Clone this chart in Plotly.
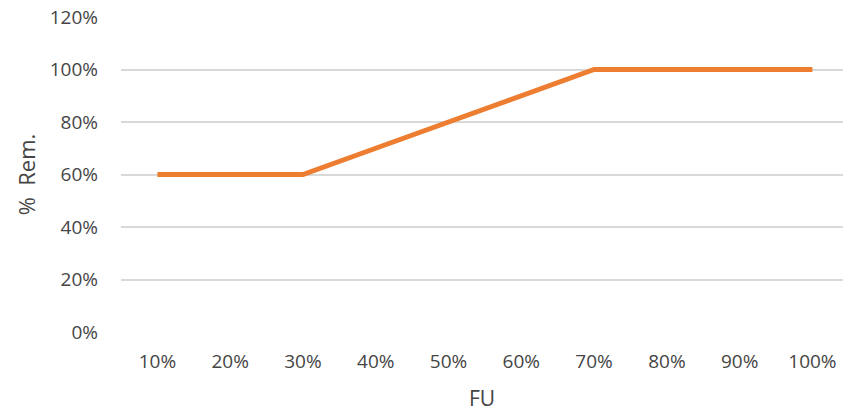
import plotly.graph_objects as go

# Fraction of FU (x categories) vs percentage remaining
fu_labels = ["10%", "20%", "30%", "40%", "50%", "60%", "70%", "80%", "90%", "100%"]
rem_values = [60, 60, 60, 70, 80, 90, 100, 100, 100, 100]
y_ticks = [0, 20, 40, 60, 80, 100, 120]

font_family = "'Open Sans', sans-serif"
text_color = "#454545"

fig = go.Figure(
    go.Scatter(
        x=fu_labels,
        y=rem_values,
        mode="lines",
        line=dict(color="#ED7D31", width=5),
        hoverinfo="x+y",
    )
)

fig.update_layout(
    width=844,
    height=414,
    margin=dict(l=121, r=1, t=17, b=82),
    paper_bgcolor="white",
    plot_bgcolor="white",
    showlegend=False,
    font=dict(family=font_family, size=20, color=text_color),
)

fig.update_xaxes(
    type="category",
    range=[-0.5, 9.42],
    showgrid=False,
    zeroline=False,
    showline=False,
    ticks="",
    ticklabelstandoff=16,
    tickfont=dict(size=19, color=text_color),
    title=dict(text="FU", font=dict(size=21, color=text_color), standoff=18),
)

fig.update_yaxes(
    range=[0, 120],
    tickvals=y_ticks,
    ticktext=[f"{v}%" for v in y_ticks],
    showgrid=True,
    gridcolor="#D9D9D9",
    gridwidth=1.5,
    zeroline=False,
    showline=False,
    ticks="",
    ticklabelstandoff=22,
    tickfont=dict(size=19, color=text_color),
    title=dict(text="%\u00a0\u00a0Rem.", font=dict(size=22, color=text_color), standoff=7),
)

fig.write_html("out.html")
